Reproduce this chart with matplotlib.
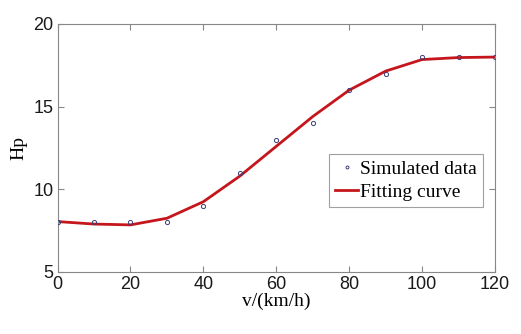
import matplotlib
matplotlib.use("Agg")
import matplotlib.pyplot as plt

speed = [0, 10, 20, 30, 40, 50, 60, 70, 80, 90, 100, 110, 120]
sim_hp = [8, 8, 8, 8, 9, 11, 13, 14, 16, 17, 18, 18, 18]
fit_hp = [8.05, 7.9, 7.85, 8.25, 9.25, 10.8, 12.6, 14.4, 16.0, 17.15, 17.85, 17.97, 18.0]
xticks = [0, 20, 40, 60, 80, 100, 120]
yticks = [5, 10, 15, 20]

fig = plt.figure(figsize=(5.21, 3.34), dpi=100)
ax = fig.add_axes([57.5/521, 1-272/334, (495-57.5)/521, (272-24)/334])

ax.plot(speed, sim_hp, 'o', markerfacecolor='none', markeredgecolor='#3a3f7a',
        markersize=3.0, markeredgewidth=0.7, label='Simulated data', zorder=3)
ax.plot(speed, fit_hp, '-', color='#c4161c', linewidth=2, label='Fitting curve', zorder=2)

ax.set_xlim(0, 120)
ax.set_ylim(5, 20)
ax.set_xticks(xticks)
ax.set_yticks(yticks)
ax.tick_params(direction='in', length=4, color='#888888', top=True, right=True,
               labelsize=13, pad=3, labelcolor='#1a1a1a')
for lab in ax.get_xticklabels() + ax.get_yticklabels():
    lab.set_family('Liberation Sans')
for s in ax.spines.values():
    s.set_color('#888888')
    s.set_linewidth(0.8)

ax.set_xlabel('v/(km/h)', fontfamily='Liberation Serif', fontsize=14, labelpad=0)
ax.set_ylabel('Hp', fontfamily='Liberation Serif', fontsize=14, labelpad=4)

leg = ax.legend(loc='lower right', bbox_to_anchor=(0.9726, 0.262),
                prop={'family': 'Liberation Serif', 'size': 14},
                frameon=True, fancybox=False, handlelength=1.2, handletextpad=0.1,
                borderpad=0.3, labelspacing=0.3, borderaxespad=0, markerscale=0.7)
leg.get_frame().set_edgecolor('#888888')
leg.get_frame().set_linewidth(0.8)

fig.savefig('out.png', dpi=100)
